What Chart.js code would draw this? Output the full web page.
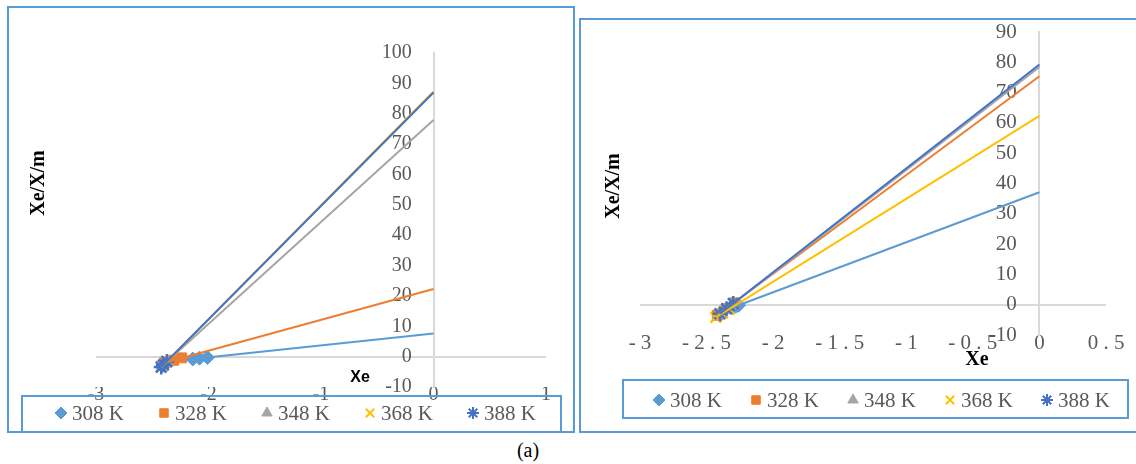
<!DOCTYPE html>
<html><head><meta charset="utf-8">
<script src="https://cdn.jsdelivr.net/npm/chart.js@4.4.1/dist/chart.umd.min.js"></script>
<style>
html,body{margin:0;padding:0;background:#fff;width:1136px;height:464px;overflow:hidden;position:relative;}
.cv{position:absolute;}
.frame{position:absolute;border:2px solid #5B9BD5;box-sizing:border-box;pointer-events:none;}
#cap{position:absolute;left:498px;top:438px;width:60px;text-align:center;font:20px "Liberation Serif";color:#000;line-height:24px;}
.warm{position:absolute;left:-999px;top:0;}
</style></head><body>
<span class="warm" style="font:20px 'Liberation Serif'">0</span>
<span class="warm" style="font:bold 20px 'Liberation Serif'">X</span>
<span class="warm" style="font:bold 16px 'Liberation Sans'">X</span>
<canvas id="c1" class="cv" width="568" height="427" style="left:7px;top:6px"></canvas>
<div class="frame" style="left:7px;top:6px;width:568px;height:427px"></div>
<canvas id="c2" class="cv" width="557" height="414" style="left:579px;top:18px"></canvas>
<div class="frame" style="left:579px;top:18px;width:562px;height:415px"></div>
<div id="cap">(a)</div>
<script>
// ---- series meta ----
const seriesLabels = ['308 K', '328 K', '348 K', '368 K', '388 K'];
const seriesColors = ['#5B9BD5', '#ED7D31', '#A5A5A5', '#FFC000', '#4472C4'];
const seriesMarkers = ['rectRot', 'rect', 'triangle', 'crossRot', 'star'];

// ---- left panel data ----
const p1XTicks = [-3, -2, -1, 0, 1];
const p1YTicks = [-10, 0, 10, 20, 30, 40, 50, 60, 70, 80, 90, 100];
const p1_308_x = [-2.14, -2.08, -2.01];
const p1_308_y = [-0.8, -0.5, -0.3];
const p1_328_x = [-2.39, -2.31, -2.24];
const p1_328_y = [-2.0, -1.2, -0.4];
const p1_348_x = [-2.41, -2.39, -2.37];
const p1_348_y = [-3.0, -2.3, -1.7];
const p1_368_x = [-2.42, -2.40, -2.37];
const p1_368_y = [-3.5, -2.8, -1.7];
const p1_388_x = [-2.42, -2.40, -2.37];
const p1_388_y = [-3.4, -2.7, -1.6];
// linear trendlines (start of data -> forecast to Xe = 0)
const p1_308_trendX = [-2.14, 0];
const p1_308_trendY = [-0.8, 7.6];
const p1_328_trendX = [-2.39, 0];
const p1_328_trendY = [-2.0, 22.3];
const p1_348_trendX = [-2.41, 0];
const p1_348_trendY = [-3.0, 77.9];
const p1_368_trendX = [-2.42, 0];
const p1_368_trendY = [-3.5, 87.3];
const p1_388_trendX = [-2.42, 0];
const p1_388_trendY = [-3.4, 87.0];

// ---- right panel data ----
const p2XTicks = [-3, -2.5, -2, -1.5, -1, -0.5, 0, 0.5];
const p2YTicks = [-10, 0, 10, 20, 30, 40, 50, 60, 70, 80, 90];
const p2_308_x = [-2.31, -2.28, -2.26];
const p2_308_y = [-1.0, -0.5, -0.2];
const p2_328_x = [-2.42, -2.35, -2.29];
const p2_328_y = [-3.5, -1.3, 0.6];
const p2_348_x = [-2.41, -2.36, -2.31];
const p2_348_y = [-3.5, -1.8, -0.1];
const p2_368_x = [-2.43, -2.38, -2.33];
const p2_368_y = [-4.2, -2.8, -1.5];
const p2_388_x = [-2.40, -2.35, -2.30];
const p2_388_y = [-3.0, -1.3, 0.4];
const p2_308_trendX = [-2.31, 0];
const p2_308_trendY = [-1.0, 37.1];
const p2_328_trendX = [-2.42, 0];
const p2_328_trendY = [-3.5, 75.4];
const p2_348_trendX = [-2.41, 0];
const p2_348_trendY = [-3.5, 78.5];
const p2_368_trendX = [-2.43, 0];
const p2_368_trendY = [-4.2, 62.3];
const p2_388_trendX = [-2.40, 0];
const p2_388_trendY = [-3.0, 79.3];

const p1Points = [[p1_308_x, p1_308_y], [p1_328_x, p1_328_y], [p1_348_x, p1_348_y], [p1_368_x, p1_368_y], [p1_388_x, p1_388_y]];
const p1Trends = [[p1_308_trendX, p1_308_trendY], [p1_328_trendX, p1_328_trendY], [p1_348_trendX, p1_348_trendY], [p1_368_trendX, p1_368_trendY], [p1_388_trendX, p1_388_trendY]];
const p2Points = [[p2_308_x, p2_308_y], [p2_328_x, p2_328_y], [p2_348_x, p2_348_y], [p2_368_x, p2_368_y], [p2_388_x, p2_388_y]];
const p2Trends = [[p2_308_trendX, p2_308_trendY], [p2_328_trendX, p2_328_trendY], [p2_348_trendX, p2_348_trendY], [p2_368_trendX, p2_368_trendY], [p2_388_trendX, p2_388_trendY]];

const SERIF = '"Liberation Serif", "Times New Roman", serif';
const TICK_COLOR = '#595959';
const Y_GAP = '\u2002\u2002\u200A';

function toXY(xs, ys) { return xs.map((x, i) => ({ x: x, y: ys[i] })); }

function drawMarker(ctx, style, r, x, y) {
  if (Chart.helpers && Chart.helpers.drawPoint) {
    Chart.helpers.drawPoint(ctx, { pointStyle: style, radius: r, rotation: 0, borderWidth: ctx.lineWidth }, x, y);
    return;
  }
  ctx.beginPath(); ctx.arc(x, y, r, 0, Math.PI * 2); ctx.fill();
}

const legendPlugin = {
  id: 'boxLegend',
  afterDraw(chart, args, o) {
    const ctx = chart.ctx;
    ctx.save();
    ctx.strokeStyle = '#5B9BD5';
    ctx.lineWidth = 2;
    ctx.strokeRect(o.box[0], o.box[1], o.box[2], o.box[3]);
    ctx.font = o.size + 'px ' + SERIF;
    ctx.textBaseline = 'middle';
    ctx.textAlign = 'left';
    const items = chart.data.datasets.filter(d => d.isSeries).sort((a, b) => a.seriesIndex - b.seriesIndex);
    items.forEach((d, i) => {
      const cx = o.x0 + i * o.step;
      ctx.fillStyle = d.backgroundColor;
      ctx.strokeStyle = d.borderColor;
      ctx.lineWidth = (d.pointStyle === 'crossRot' || d.pointStyle === 'star') ? 2 : 1;
      drawMarker(ctx, d.pointStyle, o.r, cx, o.y);
      ctx.fillStyle = TICK_COLOR;
      ctx.fillText(d.label, cx + o.gap, o.y + 1);
    });
    ctx.restore();
  }
};

const titlePlugin = {
  id: 'axisTitles',
  afterDraw(chart, args, o) {
    const ctx = chart.ctx;
    ctx.save();
    ctx.fillStyle = '#000';
    ctx.textAlign = 'center';
    ctx.textBaseline = 'middle';
    o.items.forEach(t => {
      ctx.save();
      ctx.font = t.font;
      ctx.translate(t.x, t.y);
      if (t.rot) ctx.rotate(t.rot);
      ctx.fillText(t.text, 0, 0);
      ctx.restore();
    });
    ctx.restore();
  }
};

function makeChart(id, cfg) {
  const datasets = [];
  seriesLabels.forEach((lab, i) => {
    const [px, py] = cfg.points[i];
    const [tx, ty] = cfg.trends[i];
    datasets.push({
      label: lab + ' trend',
      data: toXY(tx, ty),
      showLine: true,
      borderColor: seriesColors[i],
      backgroundColor: seriesColors[i],
      borderWidth: 2,
      pointRadius: 0,
      order: 10 - i
    });
    const cross = seriesMarkers[i] === 'crossRot' || seriesMarkers[i] === 'star';
    datasets.push({
      label: lab,
      isSeries: true,
      seriesIndex: i,
      data: toXY(px, py),
      showLine: false,
      pointStyle: seriesMarkers[i],
      pointRadius: cross ? 7.5 : 7,
      borderWidth: cross ? 2.5 : 1,
      borderColor: seriesColors[i],
      backgroundColor: seriesColors[i],
      order: 20 - i
    });
  });
  return new Chart(document.getElementById(id), {
    type: 'scatter',
    data: { datasets },
    options: {
      responsive: false,
      animation: false,
      events: [],
      layout: { padding: cfg.padding },
      plugins: {
        legend: { display: false },
        tooltip: { enabled: false },
        boxLegend: cfg.legend,
        axisTitles: { items: cfg.titles }
      },
      scales: {
        x: {
          type: 'linear', position: 'bottom', min: cfg.xMin, max: cfg.xMax,
          afterBuildTicks: s => { s.ticks = cfg.xTicks.map(v => ({ value: v })); },
          afterFit: s => { s.height = 20; },
          grid: { display: false, drawTicks: false },
          border: { display: false },
          ticks: { padding: cfg.xPad, color: TICK_COLOR, font: { family: SERIF, size: cfg.tickSize }, callback: cfg.xFmt, maxRotation: 0, autoSkip: false }
        },
        y: {
          type: 'linear', position: { x: 0 }, min: cfg.yMin, max: cfg.yMax,
          afterBuildTicks: s => { s.ticks = cfg.yTicks.map(v => ({ value: v })); },
          grid: {
            drawTicks: false, lineWidth: 2,
            color: c => (c.tick && c.tick.value === 0) ? '#D9D9D9' : 'rgba(0,0,0,0)'
          },
          border: { display: true, color: '#D9D9D9', width: 2 },
          ticks: { padding: 0, color: TICK_COLOR, font: { family: SERIF, size: cfg.tickSize }, callback: v => String(v) + Y_GAP, autoSkip: false }
        }
      }
    },
    plugins: [legendPlugin, titlePlugin]
  });
}

const cfg1 = {
  points: p1Points, trends: p1Trends,
  xMin: -3, xMax: 1, yMin: -10, yMax: 100,
  xTicks: p1XTicks, yTicks: p1YTicks, tickSize: 20,
  xFmt: v => String(v), xPad: -4,
  padding: { left: 89, right: 29, top: 47, bottom: 26 },
  legend: { box: [15, 390, 539, 36], x0: 54, step: 103, y: 407, r: 6, gap: 11, size: 21 },
  titles: [
    { text: 'Xe/X/m', x: 32, y: 177, rot: -Math.PI / 2, font: 'bold 20px ' + SERIF },
    { text: 'Xe', x: 353, y: 372, font: 'bold 16px "Liberation Sans", Arial, sans-serif' }
  ]
};
const cfg2 = {
  points: p2Points, trends: p2Trends,
  xMin: -3, xMax: 0.5, yMin: -10, yMax: 90,
  xTicks: p2XTicks, yTicks: p2YTicks, tickSize: 21,
  xFmt: v => String(v).split('').join(' '), xPad: -4,
  padding: { left: 61, right: 30, top: 14, bottom: 77 },
  legend: { box: [44, 362, 505, 38], x0: 80, step: 97, y: 382, r: 6, gap: 11, size: 21 },
  titles: [
    { text: 'Xe/X/m', x: 35, y: 168, rot: -Math.PI / 2, font: 'bold 20px ' + SERIF },
    { text: 'Xe', x: 398, y: 342, font: 'bold 20px ' + SERIF }
  ]
};

let charts = [];
function build() {
  charts.forEach(c => c.destroy());
  charts = [makeChart('c1', cfg1), makeChart('c2', cfg2)];
}
build();
if (document.fonts && document.fonts.load) {
  Promise.all([
    document.fonts.load('20px "Liberation Serif"'),
    document.fonts.load('bold 20px "Liberation Serif"'),
    document.fonts.load('bold 16px "Liberation Sans"')
  ]).then(build).catch(() => {});
}
</script>
</body></html>
